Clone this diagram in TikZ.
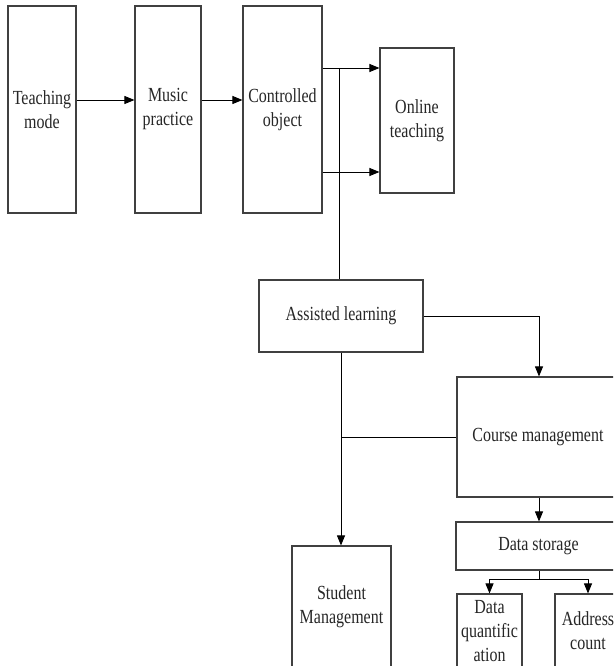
\documentclass[tikz,border=0pt]{standalone}
\usepackage{fontspec}
\setmainfont[FakeStretch=0.8]{Liberation Serif}
\usetikzlibrary{arrows.meta}
\begin{document}
\begin{tikzpicture}[x=1pt,y=-1pt,
  box/.style={draw=black!75, line width=1.1pt, inner sep=0pt, align=center,
    font=\fontsize{20}{24}\selectfont, text=black!85},
  link/.style={draw=black, line width=0.9pt},
  arr/.style={link, -{Triangle[length=10pt,width=8pt]}}]
\useasboundingbox (0,0) rectangle (613,666);
\clip (0,0) rectangle (613,666);
\fill[white] (0,0) rectangle (613,666);

% top row
\node[box, minimum width=68pt, minimum height=207pt] (tm) at (42,109.5) {Teaching\\mode};
\node[box, minimum width=66pt, minimum height=207pt] (mp) at (168,109.5) {Music\\practice};
\node[box, minimum width=79pt, minimum height=207pt] (co) at (282.5,109.5) {Controlled\\object};
\node[box, minimum width=74pt, minimum height=145pt] (ot) at (417,120.5) {Online\\teaching};

% lower part
\node[box, minimum width=164pt, minimum height=72pt] (al) at (341,316) {Assisted learning};
\node[box, minimum width=162pt, minimum height=120pt] (cm) at (538,437) {Course management};
\node[box, minimum width=165pt, minimum height=48pt] (ds) at (538.5,546) {Data storage};
\node[box, minimum width=65pt, minimum height=74pt] (dq) at (489.5,631) {Data\\quantific\\ation};
\node[box, minimum width=66pt, minimum height=74pt] (ac) at (588,631) {Address\\count};
\node[box, minimum width=99pt, minimum height=122pt] (sm) at (341.5,607) {Student\\Management};

% helper coordinates
\coordinate (r1) at (0,100);
\coordinate (u1) at (0,68);
\coordinate (u2) at (0,172);
\coordinate (vx) at (339,0);
\coordinate (sx) at (341,0);
\coordinate (cx) at (539,0);
\coordinate (br) at (0,437);
\coordinate (sp) at (0,579);

% connectors
\draw[arr] (tm.east |- r1) -- (mp.west |- r1);
\draw[arr] (mp.east |- r1) -- (co.west |- r1);
\draw[arr] (co.east |- u1) -- (ot.west |- u1);
\draw[arr] (co.east |- u2) -- (ot.west |- u2);
\draw[link] (vx |- u1) -- (vx |- al.north);
\draw[arr] (al.east) -| (cx |- cm.north);
\draw[arr] (sx |- al.south) -- (sx |- sm.north);
\draw[link] (sx |- br) -- (cm.west |- br);
\draw[arr] (cx |- cm.south) -- (cx |- ds.north);
\draw[link] (cx |- ds.south) -- (cx |- sp);
\draw[arr] (cx |- sp) -| (dq.north);
\draw[arr] (cx |- sp) -| (ac.north);
\end{tikzpicture}
\end{document}
